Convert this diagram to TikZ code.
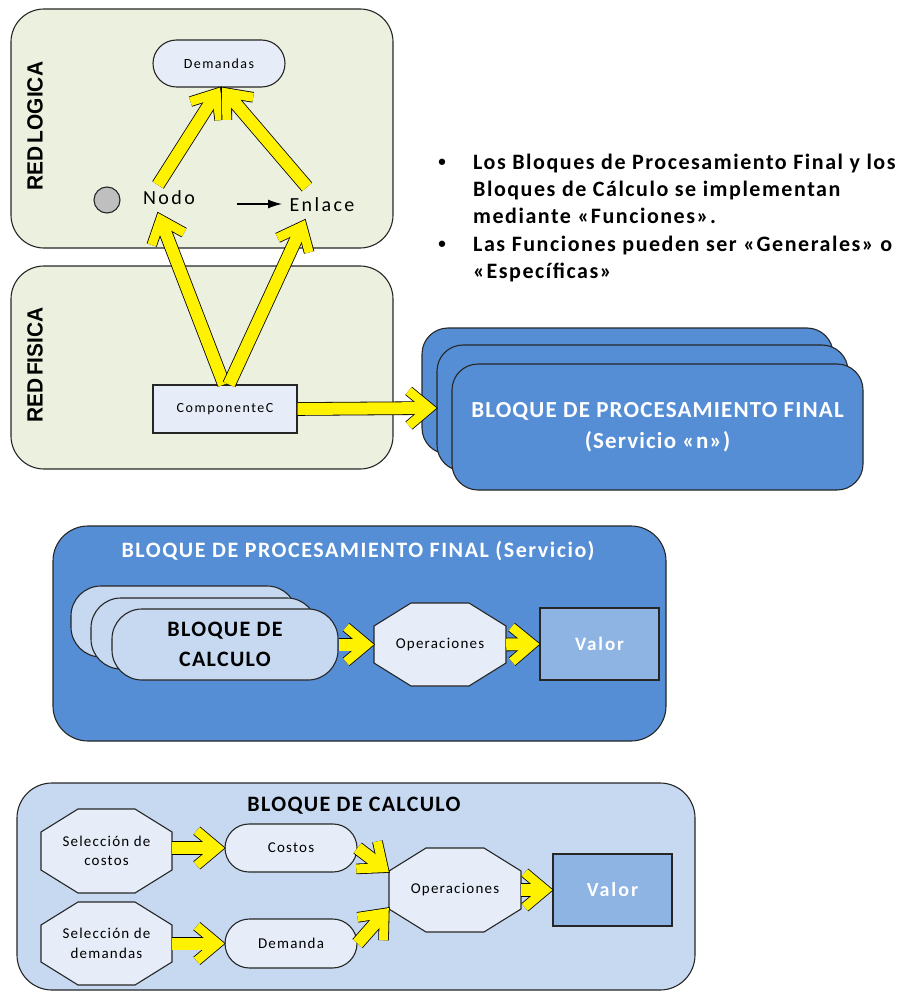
\documentclass[tikz,border=0pt]{standalone}
\usepackage{fontspec}
\setmainfont{Carlito}
\newfontfamily\arialfont{Liberation Sans}
\usetikzlibrary{calc,shapes.misc,arrows.meta}

\definecolor{panelgreen}{HTML}{EBF1DE}
\definecolor{blockblue}{HTML}{558ED5}
\definecolor{paleblue}{HTML}{C6D9F1}
\definecolor{boxwhite}{HTML}{E6EDF8}
\definecolor{valueblue}{HTML}{8EB4E3}
\definecolor{edgegray}{HTML}{262626}

% font helpers: size, baseline skip, letter spacing
\newcommand\lbl[3]{\fontsize{#1}{#2}\selectfont\addfontfeature{LetterSpace=#3}}
\newcommand\hdr[3]{\fontsize{#1}{#2}\selectfont\bfseries\addfontfeature{LetterSpace=#3}}
% tightly set rotated side label
\newcommand\sidetext[1]{\scalebox{0.95}[1]{\spaceskip=3pt\relax #1}}

% thick yellow arrow with an open chevron head, outlined in black
\newcommand\flowarrow[2]{%
  \draw[arrowedge, line width=13.6pt] (#1) -- ($(#2)!11pt!(#1)$);
  \draw[arrowedge, line width=10.6pt] ($(#2)!7pt!(#1)!27pt!40:(#1)$) -- ($(#2)!7pt!(#1)$) -- ($(#2)!7pt!(#1)!27pt!-40:(#1)$);
  \draw[arrowfill, line width=12pt] (#1) -- ($(#2)!11pt!(#1)$);
  \draw[arrowfill, line width=9pt] ($(#2)!7pt!(#1)!27pt!40:(#1)$) -- ($(#2)!7pt!(#1)$) -- ($(#2)!7pt!(#1)!27pt!-40:(#1)$);
}

% octagon with a text node on top: name, centre, width, height, text
\newcommand\octo[5]{%
  \begin{scope}[shift={(#2)}]
    \filldraw[octfill] ({-#3/2+37},{-#4/2}) -- ({#3/2-37},{-#4/2}) -- ({#3/2},{-#4/2+23})
      -- ({#3/2},{#4/2-23}) -- ({#3/2-37},{#4/2}) -- ({-#3/2+37},{#4/2})
      -- ({-#3/2},{#4/2-23}) -- ({-#3/2},{-#4/2+23}) -- cycle;
  \end{scope}
  \node[inner sep=0, align=center, minimum width=#3pt, minimum height=#4pt,
        font=\lbl{15}{19.5}{8}] (#1) at (#2) {#5};
}

\begin{document}
\begin{tikzpicture}[x=1pt,y=-1pt,
  outline/.style={draw=edgegray, line width=1.1pt},
  greenpanel/.style={outline, fill=panelgreen, rounded corners=33pt, inner sep=0},
  bluepanel/.style={outline, fill=blockblue, rounded corners=35pt, inner sep=0},
  calcpanel/.style={outline, fill=paleblue, rounded corners=35pt, inner sep=0},
  servicecard/.style={outline, fill=blockblue, rounded corners=26pt, minimum width=411pt, minimum height=126pt, inner sep=0},
  calccard/.style={outline, fill=paleblue, rounded corners=30pt, minimum width=226pt, minimum height=71pt, inner sep=0},
  pill/.style={outline, fill=boxwhite, rounded rectangle, inner sep=0},
  plainbox/.style={outline, fill=boxwhite, inner sep=0},
  valuebox/.style={outline, fill=valueblue, inner sep=0, text=white},
  octfill/.style={outline, fill=boxwhite},
  arrowedge/.style={draw=black, line cap=butt, line join=miter},
  arrowfill/.style={draw=yellow, line cap=butt, line join=miter},
  sidelabel/.style={rotate=90, inner sep=0, font=\arialfont\bfseries\fontsize{22}{22}\selectfont},
  bultext/.style={inner sep=0, font=\hdr{22}{22}{7}},
  bulmark/.style={inner sep=0, font=\hdr{15}{15}{0}},
]
\useasboundingbox (0,0) rectangle (903,992);

% ---- logical network ----
\node[greenpanel, minimum width=382pt, minimum height=239pt] (logpanel) at (202,128.5) {};
\node[sidelabel] (logtitle) at (35,126) {\sidetext{RED LOGICA}};
\node[pill, minimum width=132pt, minimum height=47pt, font=\lbl{14}{14}{10}] (dem) at (219,63.5) {Demandas};
\node[outline, circle, fill=black!25, minimum size=26pt, inner sep=0] (dot) at (107,200) {};
\node[font=\lbl{20}{20}{12}, inner sep=0] (nodo) at (169,198) {Nodo};
\node[font=\lbl{20}{20}{12}, inner sep=0] (enl) at (322,205) {Enlace};
\coordinate (keyA) at (237,204);
\coordinate (keyB) at (282,204);
\draw[line width=1.3pt, -{Latex[length=14pt,width=9pt]}] (keyA) -- (keyB);

% ---- physical network ----
\node[greenpanel, minimum width=382pt, minimum height=203pt] (fispanel) at (202,367.5) {};
\node[sidelabel] (fistitle) at (35,365) {\sidetext{RED FISICA}};
\node[plainbox, minimum width=144pt, minimum height=48pt, font=\lbl{14}{14}{11}] (compc) at (225,409) {ComponenteC};

% ---- stacked service blocks ----
\node[servicecard] (svc1) at (627.5,391) {};
\node[servicecard] (svc2) at (642.5,408) {};
\node[servicecard, text=white, align=center, font=\hdr{23}{31}{5}] (svc3) at (657.5,427) {BLOQUE DE PROCESAMIENTO FINAL\\(Servicio «n»)};

% ---- notes ----
\node[bulmark, anchor=base] (bul1) at (442,167) {•};
\node[bulmark, anchor=base] (bul2) at (442,248.6) {•};
\node[bultext, anchor=base west] (ln1) at (473,169.5) {Los Bloques de Procesamiento Final y los};
\node[bultext, anchor=base west] (ln2) at (473,196.7) {Bloques de Cálculo se implementan};
\node[bultext, anchor=base west] (ln3) at (473,223.9) {mediante «Funciones».};
\node[bultext, anchor=base west] (ln4) at (473,251.1) {Las Funciones pueden ser «Generales» o};
\node[bultext, anchor=base west] (ln5) at (473,278.3) {«Específicas»};

% ---- final processing block ----
\node[bluepanel, minimum width=613pt, minimum height=215pt] (svcpanel) at (359.5,633.5) {};
\node[text=white, font=\hdr{22}{22}{7}, inner sep=0] (svctitle) at (358,551) {BLOQUE DE PROCESAMIENTO FINAL (Servicio)};
\node[calccard] (cb1) at (184,621.5) {};
\node[calccard] (cb2) at (204,633.5) {};
\node[calccard, align=center, font=\hdr{22}{30}{6}] (cb3) at (225,644.5) {BLOQUE DE\\CALCULO};
\octo{ops1}{440,644.5}{132}{83}{Operaciones}
\node[valuebox, minimum width=119pt, minimum height=72pt, font=\hdr{19}{19}{10}] (val1) at (599.5,644) {Valor};

% ---- calculation block ----
\node[calcpanel, minimum width=678pt, minimum height=207pt] (calcbox) at (356,886.5) {};
\node[font=\hdr{22}{22}{6}, inner sep=0] (calctitle) at (354,806) {BLOQUE DE CALCULO};
\octo{selc}{106.5,851}{131}{84}{Selección de\\costos}
\octo{seld}{106.5,943.5}{131}{83}{Selección de\\demandas}
\node[pill, minimum width=132pt, minimum height=48pt, font=\lbl{15}{15}{8}] (cost) at (291,848) {Costos};
\node[pill, minimum width=132pt, minimum height=49pt, font=\lbl{15}{15}{8}] (demd) at (291,943.5) {Demanda};
\octo{ops2}{455,890}{132}{84}{Operaciones}
\node[valuebox, minimum width=119pt, minimum height=72pt, font=\hdr{20}{20}{10}] (val2) at (612.5,890) {Valor};

% ---- connectors ----
\coordinate (a1s) at ($(nodo.center)+(-11,-13)$);
\coordinate (a1e) at ($(dem.south)+(1,0)$);
\coordinate (a2s) at ($(enl.center)+(-15,-18)$);
\coordinate (a2e) at ($(dem.south)+(3,0)$);
\coordinate (a3s) at ($(compc.north)+(-1,0)$);
\coordinate (a3e) at ($(nodo.center)+(-11,15)$);
\coordinate (a4s) at ($(compc.north)+(4,0)$);
\coordinate (a4e) at ($(enl.center)+(-17,15)$);
\flowarrow{a1s}{a1e}
\flowarrow{a2s}{a2e}
\flowarrow{a3s}{a3e}
\flowarrow{a4s}{a4e}
\flowarrow{compc.east}{svc2.west}

\flowarrow{cb3.east}{ops1.west}
\flowarrow{ops1.east}{val1.west}

\coordinate (c1s) at (selc.east |- cost.west);
\coordinate (c2s) at (seld.east |- demd.west);
\coordinate (c3e) at ($(ops2.west)+(0,-18)$);
\coordinate (c4e) at ($(ops2.west)+(0,18)$);
\flowarrow{c1s}{cost.west}
\flowarrow{c2s}{demd.west}
\flowarrow{cost.east}{c3e}
\flowarrow{demd.east}{c4e}
\flowarrow{ops2.east}{val2.west}
\end{tikzpicture}
\end{document}
